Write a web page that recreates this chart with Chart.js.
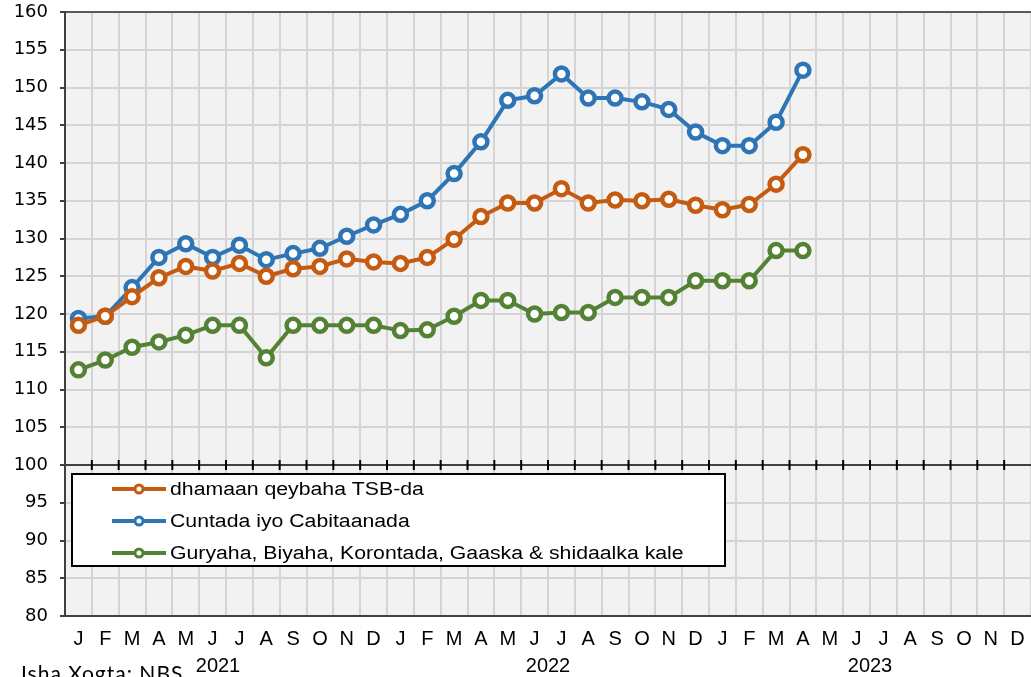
<!DOCTYPE html>
<html>
<head>
<meta charset="utf-8">
<script src="https://cdn.jsdelivr.net/npm/chart.js@4.4.1/dist/chart.umd.min.js"></script>
<style>
  html, body { margin: 0; padding: 0; background: #fff; }
  canvas { display: block; }
</style>
</head>
<body>
<canvas id="cpiChart" width="1031" height="677"></canvas>
<script>
// bilaha (J 2021 .. D 2023)
const months = ['J','F','M','A','M','J','J','A','S','O','N','D',
                'J','F','M','A','M','J','J','A','S','O','N','D',
                'J','F','M','A','M','J','J','A','S','O','N','D'];
const years = ['2021', '2022', '2023'];

const seriesNames = [
    'dhamaan qeybaha TSB-da',
    'Cuntada iyo Cabitaanada',
    'Guryaha, Biyaha, Korontada, Gaaska & shidaalka kale'
];

// J21 .. A23
const allGroups = [118.5, 119.7, 122.3, 124.8, 126.3, 125.7, 126.7, 125.0, 126.0, 126.3, 127.3, 126.9,
                   126.7, 127.5, 129.9, 132.9, 134.7, 134.7, 136.6, 134.7, 135.1, 135.0, 135.2, 134.4,
                   133.8, 134.5, 137.2, 141.1];
const foodDrinks = [119.4, 119.7, 123.5, 127.5, 129.3, 127.5, 129.1, 127.2, 128.0, 128.7, 130.3, 131.8,
                    133.2, 135.0, 138.6, 142.8, 148.3, 148.9, 151.8, 148.6, 148.6, 148.1, 147.1, 144.1,
                    142.3, 142.3, 145.4, 152.3];
const housingFuel = [112.6, 113.9, 115.6, 116.3, 117.2, 118.5, 118.5, 114.2, 118.5, 118.5, 118.5, 118.5,
                     117.8, 117.9, 119.7, 121.8, 121.8, 120.0, 120.2, 120.2, 122.2, 122.2, 122.2, 124.4,
                     124.4, 124.4, 128.4, 128.4];

const sourceText = 'Isha Xogta: NBS';

const colors = {
    orange: '#C55A11',
    blue: '#2E75B6',
    green: '#548235'
};

function makeSeries(label, values, color) {
    return {
        label: label,
        data: values,
        borderColor: color,
        backgroundColor: color,
        borderWidth: 4,
        pointRadius: 6.5,
        pointHoverRadius: 6.5,
        pointBorderWidth: 4.5,
        pointBackgroundColor: '#fff',
        pointBorderColor: color,
        tension: 0
    };
}

// qoraal si ballaaran loo kala bixiyay
function wideText(ctx, text, x, y, sx) {
    ctx.save();
    ctx.translate(x, y);
    ctx.scale(sx, 1);
    ctx.fillText(text, 0, 0);
    ctx.restore();
}

// gris fondo ee plot-ka
const plotBg = {
    id: 'plotBg',
    beforeDraw(chart) {
        const { ctx, chartArea: a } = chart;
        ctx.save();
        ctx.fillStyle = '#F2F2F2';
        ctx.fillRect(a.left, a.top, a.right - a.left, a.bottom - a.top);
        ctx.restore();
    }
};

// xariiqda 100 iyo calaamadaha
const baseLine = {
    id: 'baseLine',
    beforeDatasetsDraw(chart) {
        const { ctx, chartArea: a, scales } = chart;
        const y = Math.round(scales.y.getPixelForValue(100));
        ctx.save();
        ctx.strokeStyle = '#404040';
        ctx.lineWidth = 2;
        ctx.beginPath();
        ctx.moveTo(a.left, y);
        ctx.lineTo(a.right, y);
        ctx.stroke();
        ctx.strokeStyle = '#000';
        ctx.lineWidth = 2;
        for (let i = 1; i < months.length; i++) {
            const x = (scales.x.getPixelForValue(i - 1) + scales.x.getPixelForValue(i)) / 2;
            ctx.beginPath();
            ctx.moveTo(x, y - 5);
            ctx.lineTo(x, y + 5);
            ctx.stroke();
        }
        ctx.restore();
    }
};

// legend sanduuq
const boxLegend = {
    id: 'boxLegend',
    afterDatasetsDraw(chart) {
        const { ctx } = chart;
        ctx.save();
        ctx.fillStyle = '#fff';
        ctx.fillRect(72, 474, 653, 92);
        ctx.strokeStyle = '#000';
        ctx.lineWidth = 2;
        ctx.strokeRect(72, 474, 653, 92);
        chart.data.datasets.forEach((ds, i) => {
            const y = 489 + i * 32;
            ctx.strokeStyle = ds.borderColor;
            ctx.lineWidth = 4;
            ctx.beginPath();
            ctx.moveTo(112, y);
            ctx.lineTo(166, y);
            ctx.stroke();
            ctx.beginPath();
            ctx.arc(139, y, 4, 0, Math.PI * 2);
            ctx.fillStyle = '#fff';
            ctx.fill();
            ctx.lineWidth = 3;
            ctx.stroke();
            ctx.fillStyle = '#000';
            ctx.font = '18px "Liberation Sans", Arial, sans-serif';
            ctx.textBaseline = 'middle';
            ctx.textAlign = 'left';
            wideText(ctx, ds.label, 170, y + 1, 1.18);
        });
        ctx.restore();
    }
};

// sanadaha iyo isha xogta
const extraText = {
    id: 'extraText',
    afterDraw(chart) {
        const { ctx, scales } = chart;
        ctx.save();
        ctx.fillStyle = '#000';
        ctx.font = '20px "Liberation Sans", Arial, sans-serif';
        ctx.textAlign = 'center';
        ctx.textBaseline = 'alphabetic';
        years.forEach((yr, i) => {
            const x = (scales.x.getPixelForValue(5 + i * 12) + scales.x.getPixelForValue(6 + i * 12)) / 2;
            ctx.fillText(yr, x - (i === 0 ? 8 : 0), 672);
        });
        ctx.textAlign = 'left';
        ctx.font = '21px Lato, "Open Sans", sans-serif';
        ctx.letterSpacing = '1px';
        ctx.fillText(sourceText, 21, 681);
        ctx.restore();
    }
};

const ctx = document.getElementById('cpiChart').getContext('2d');
const cpiChart = new Chart(ctx, {
    type: 'line',
    data: {
        labels: months,
        datasets: [
            makeSeries(seriesNames[0], allGroups, colors.orange),
            makeSeries(seriesNames[1], foodDrinks, colors.blue),
            makeSeries(seriesNames[2], housingFuel, colors.green)
        ]
    },
    options: {
        responsive: false,
        devicePixelRatio: 1,
        animation: false,
        layout: { autoPadding: false, padding: { top: 12, left: 0, right: 0, bottom: 0 } },
        scales: {
            x: {
                offset: true,
                afterFit(scale) {
                    scale.height = 61;
                    scale.paddingLeft = 0;
                    scale.paddingRight = 0;
                },
                grid: {
                    offset: true,
                    color: '#D4D4D4',
                    lineWidth: 2,
                    drawTicks: false
                },
                border: { color: '#404040', width: 2 },
                ticks: {
                    autoSkip: false,
                    maxRotation: 0,
                    padding: 11,
                    color: '#000',
                    font: { family: '"Liberation Sans", Arial, sans-serif', size: 20 }
                }
            },
            y: {
                min: 80,
                max: 160,
                afterFit(scale) {
                    scale.width = 65;
                    scale.paddingTop = 0;
                    scale.paddingBottom = 0;
                },
                grid: {
                    color: c => c.tick && c.tick.value === 160 ? '#595959' : '#D4D4D4',
                    lineWidth: 2,
                    tickLength: 5,
                    tickColor: '#404040'
                },
                border: { color: '#404040', width: 2 },
                ticks: {
                    stepSize: 5,
                    padding: 12,
                    color: '#000',
                    font: { family: '"DejaVu Sans", sans-serif', size: 18 }
                }
            }
        },
        plugins: {
            legend: { display: false },
            tooltip: { enabled: false }
        }
    },
    plugins: [plotBg, baseLine, boxLegend, extraText]
});
</script>
</body>
</html>
